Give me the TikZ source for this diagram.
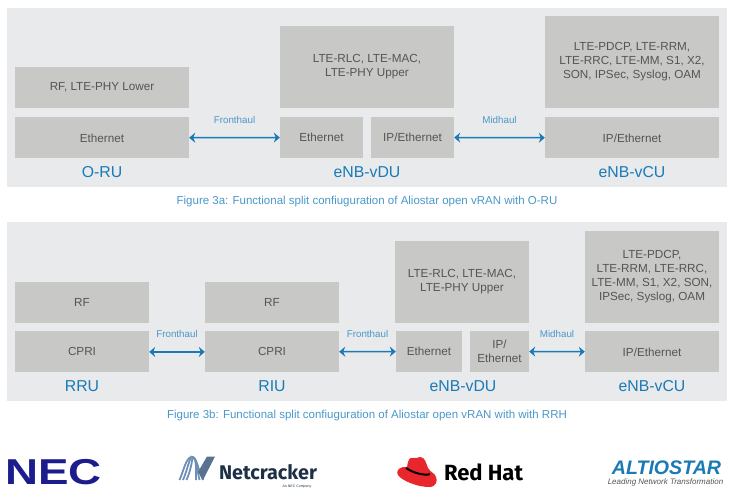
\documentclass[tikz,border=0pt]{standalone}
\usepackage{fontspec}
\setmainfont{Liberation Sans}
\newfontfamily\logofont{Fira Sans}
\usetikzlibrary{positioning,arrows.meta}
\definecolor{panelgray}{HTML}{E9EAEC}
\definecolor{boxgray}{HTML}{C8C8C6}
\definecolor{boxtext}{HTML}{555555}
\definecolor{linkblue}{HTML}{1A7AB5}
\definecolor{lightblue}{HTML}{4A97C8}
\definecolor{necblue}{HTML}{1C1C8C}
\definecolor{ncdark}{HTML}{1D3045}
\definecolor{ncblue}{HTML}{6F8FB5}
\definecolor{hatred}{HTML}{E8262B}
\tikzset{
  box/.style={fill=boxgray, text=boxtext, inner sep=0pt, align=center, font=\fontsize{11.7}{14}\selectfont},
  title/.style={text=linkblue, inner sep=0pt, font=\fontsize{15.8}{17}\selectfont},
  caption/.style={text=lightblue, inner sep=0pt, font=\fontsize{11.5}{13}\selectfont},
  linklabel/.style={text=lightblue, inner sep=0pt, font=\fontsize{9.8}{11}\selectfont},
  link/.style={<->, >={Stealth[length=6pt,width=10pt]}, draw=linkblue, line width=1.5pt},
}
\begin{document}
\begin{tikzpicture}[x=1pt, y=-1pt]
  \useasboundingbox (0,0) rectangle (735,497);
  \fill[panelgray] (7,8) rectangle (727,187);
  \fill[panelgray] (7,222) rectangle (727,401);

  % figure 3a
  \node[box, minimum width=174pt, minimum height=41pt] (RFa) at (102,87.5) {RF, LTE-PHY Lower};
  \node[box, minimum width=174pt, minimum height=41pt, below=9pt of RFa] (ETHa) {Ethernet};
  \node[box, minimum width=174pt, minimum height=82pt] (RLCa) at (367,67) {LTE-RLC, LTE-MAC,\\LTE-PHY Upper};
  \node[box, minimum width=83pt, minimum height=41pt] (ETHb) at (321.5,137.5) {Ethernet};
  \node[box, minimum width=83pt, minimum height=41pt] (IPa) at (412.5,137.5) {IP/Ethernet};
  \node[box, minimum width=174pt, minimum height=92pt] (PDCPa) at (632,62) {LTE-PDCP, LTE-RRM,\\LTE-RRC, LTE-MM, S1, X2,\\SON, IPSec, Syslog, OAM};
  \node[box, minimum width=174pt, minimum height=41pt, below=9pt of PDCPa] (IPb) {IP/Ethernet};

  \node[title] (ORU) at (102,172) {O-RU};
  \node[title] (VDUa) at (367,172) {eNB-vDU};
  \node[title] (VCUa) at (632,172) {eNB-vCU};
  \node[caption] (CAPa) at (367,201.5) {Figure 3a: Functional split confiuguration of Aliostar open vRAN with O-RU};

  \path (ETHa) edge[link] node[linklabel, above=13.5pt] (FHa) {Fronthaul} (ETHb);
  \path (IPa) edge[link] node[linklabel, above=13.5pt] (MHa) {Midhaul} (IPb);

  % figure 3b
  \node[box, minimum width=134pt, minimum height=41pt] (RFc) at (82,302.5) {RF};
  \node[box, minimum width=134pt, minimum height=41pt, below=8pt of RFc] (CPRIa) {CPRI};
  \node[box, minimum width=134pt, minimum height=41pt] (RFd) at (272,302.5) {RF};
  \node[box, minimum width=134pt, minimum height=41pt, below=8pt of RFd] (CPRIb) {CPRI};
  \node[box, minimum width=134pt, minimum height=82pt] (RLCb) at (462,282) {LTE-RLC, LTE-MAC,\\LTE-PHY Upper};
  \node[box, minimum width=66pt, minimum height=41pt] (ETHc) at (429,351.5) {Ethernet};
  \node[box, minimum width=59pt, minimum height=41pt] (IPc) at (499.5,351.5) {IP/\\Ethernet};
  \node[box, minimum width=134pt, minimum height=92pt] (PDCPb) at (652,277) {LTE-PDCP,\\LTE-RRM, LTE-RRC,\\LTE-MM, S1, X2, SON,\\IPSec, Syslog, OAM};
  \node[box, minimum width=134pt, minimum height=41pt, below=8pt of PDCPb] (IPd) {IP/Ethernet};

  \node[title] (RRU) at (82,386) {RRU};
  \node[title] (RIU) at (272,386) {RIU};
  \node[title] (VDUb) at (463,386) {eNB-vDU};
  \node[title] (VCUb) at (652,386) {eNB-vCU};
  \node[caption] (CAPb) at (367,415.5) {Figure 3b: Functional split confiuguration of Aliostar open vRAN with with RRH};

  \path (CPRIa) edge[link] node[linklabel, above=13.5pt] (FHb) {Fronthaul} (CPRIb);
  \path (CPRIb) edge[link] node[linklabel, above=13.5pt] (FHc) {Fronthaul} (ETHc);
  \path (IPc) edge[link] node[linklabel, above=13.5pt] (MHb) {Midhaul} (IPd);

  % logos
  \node[inner sep=0pt, text=necblue, xscale=1.27, font=\fontsize{36}{36}\selectfont\bfseries] (NEC) at (53.5,472) {NEC};

  \foreach \shift in {0,3.5,7}
    \draw[ncblue, line width=1.8pt] (179.5+\shift,480) .. controls (184+\shift,470) and (186+\shift,457) .. (192,457) .. controls (197,457) and (198-0.3*\shift,470) .. (203-\shift,480);
  \fill[ncblue!80!black] (203,480) -- (215,456.5) -- (207,456.5) -- (198,472) -- cycle;
  \node[inner sep=0pt, text=ncdark, font=\logofont\fontsize{19.8}{20}\selectfont\bfseries] (NC) at (268,472) {Netcracker};
  \node[inner sep=0pt, text=ncdark, font=\fontsize{3.5}{4}\selectfont] (NCsub) at (297,486.5) {An NEC Company};

  \fill[hatred] (403,467) .. controls (398,468) and (396,472) .. (398,475) .. controls (402,481) and (418,487) .. (429,487) .. controls (436,487) and (438,481) .. (436,477) .. controls (435,473) and (431,473) .. (428,468) .. controls (426,463) and (425,457) .. (420,457) .. controls (417,457) and (416,459) .. (413,458) .. controls (409,457) and (408,461) .. (407,467) -- cycle;
  \draw[black, line width=2pt] (406,468) .. controls (413,473) and (425,476) .. (430,474);
  \node[inner sep=0pt, text=black, font=\logofont\fontsize{22}{22}\selectfont\bfseries] (RH) at (483.5,472) {Red Hat};

  \node[inner sep=0pt, text=linkblue, font=\fontsize{19.6}{20}\selectfont\bfseries\itshape] (ALT) at (666.5,467.5) {ALTIOSTAR};
  \node[inner sep=0pt, text=boxtext, font=\fontsize{8}{9}\selectfont\itshape] (ALTsub) at (665.5,482.5) {Leading Network Transformation};
\end{tikzpicture}
\end{document}
